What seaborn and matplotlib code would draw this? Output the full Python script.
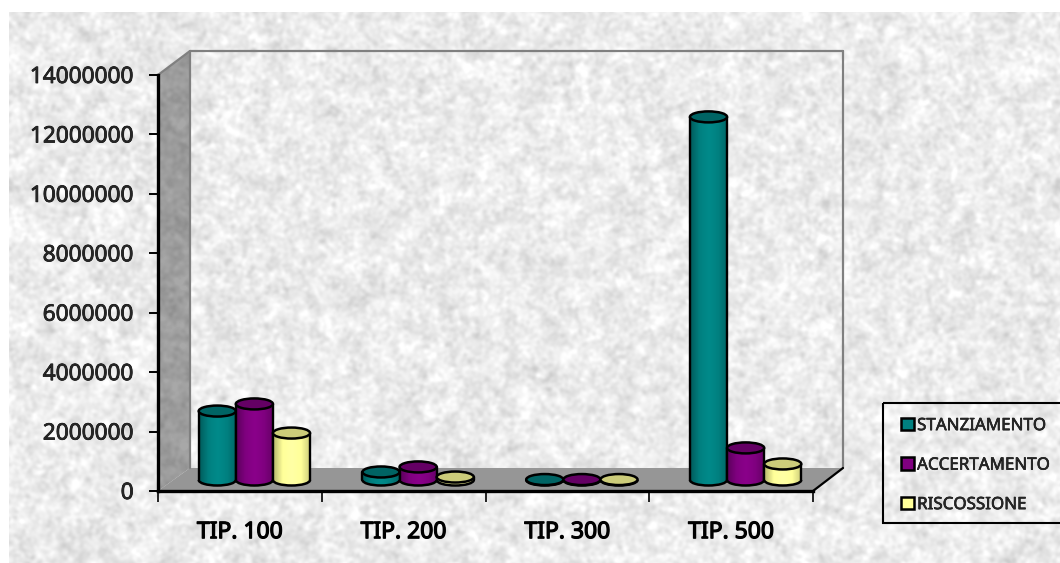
import numpy as np
import pandas as pd
import matplotlib
matplotlib.use("Agg")
import matplotlib.pyplot as plt
import matplotlib.patheffects as pe
from matplotlib.patches import Ellipse, Polygon, Arc, PathPatch, Rectangle
from matplotlib.path import Path
from matplotlib.lines import Line2D
from matplotlib.colors import LinearSegmentedColormap, to_rgb
import seaborn as sns

categories = ["TIP. 100", "TIP. 200", "TIP. 300", "TIP. 500"]
stanziamento = [2320000, 270000, 15000, 12220000]
accertamento = [2560000, 440000, 15000, 1080000]
riscossione = [1580000, 100000, 15000, 540000]
series_names = ["STANZIAMENTO", "ACCERTAMENTO", "RISCOSSIONE"]
colors = ["#008080", "#800080", "#FFFF99"]
top_colors = ["#006464", "#640064", "#CCCC7A"]
y_ticks = list(range(0, 14000001, 2000000))

W, H = 1060, 563
sns.set_theme(style="white")
plt.rcParams["font.family"] = ["Noto Sans", "DejaVu Sans"]

df = pd.DataFrame({
    "cat": categories * 3,
    "series": np.repeat(series_names, len(categories)),
    "value": stanziamento + accertamento + riscossione,
})

fig = plt.figure(figsize=(W / 100, H / 100), dpi=100, facecolor="white")


def frac(l, t, r, b):
    return [l / W, 1 - b / H, (r - l) / W, (b - t) / H]


# decorative paper texture behind the chart
rng = np.random.default_rng(7)
noise = rng.normal(size=(H, W))
fy = np.fft.fftfreq(H)[:, None]
fx = np.fft.fftfreq(W)[None, :]


def blur(sigma):
    out = np.fft.ifft2(np.fft.fft2(noise) * np.exp(-(fx**2 + fy**2) * 2 * (np.pi * sigma) ** 2)).real
    return out / out.std()


tex = np.clip(0.925 + 0.024 * blur(1.8) + 0.01 * blur(6.0), 0.78, 1.0)

bg = fig.add_axes([0, 0, 1, 1], zorder=0)
bg.set_xlim(0, W)
bg.set_ylim(H, 0)
bg.axis("off")
bg.imshow(tex, extent=(9, W, H, 12), cmap="gray", vmin=0, vmax=1, aspect="auto",
          interpolation="bilinear", zorder=0)
wall = tex[51:491, 158:190] * 0.66
bg.imshow(wall, extent=(158, 190, 491, 51), cmap="gray", vmin=0, vmax=1, aspect="auto",
          zorder=1, clip_path=Polygon([(158, 75), (190, 51), (190, 468), (158, 491)],
                                      transform=bg.transData))
bg.add_patch(Polygon([(158, 491), (190, 468), (843, 468), (813, 491)], closed=True,
                     facecolor="#969696", edgecolor="none", zorder=2))
for xs, ys in [((158, 190), (75, 51)), ((190, 843), (51, 51)), ((190, 190), (51, 468)),
               ((843, 843), (51, 468))]:
    bg.add_line(Line2D(xs, ys, color="#808080", lw=1.6, zorder=3))
bg.add_line(Line2D((843, 813), (468, 491), color="black", lw=1.6, zorder=3))
bg.add_patch(Rectangle((883, 403), 200, 120, facecolor="none", edgecolor="black", lw=1.5, zorder=3))
bg.set_xlim(0, W)
bg.set_ylim(H, 0)

# front frame: axes, ticks and labels
ax = fig.add_axes(frac(158, 75, 813, 491), zorder=1)
ax.patch.set_alpha(0)
ax.set_xlim(-0.5, len(categories) - 0.5)
ax.set_ylim(0, 14000000)
ax.set_yticks(y_ticks)
ax.set_yticklabels([str(v) for v in y_ticks])
ax.set_xticks(range(len(categories)))
ax.set_xticklabels(categories)
ax.set_xticks(np.arange(len(categories) + 1) - 0.5, minor=True)
ax.tick_params(axis="x", which="major", length=0, pad=21, labelsize=16.5, colors="black")
ax.tick_params(axis="x", which="minor", length=8, width=1.2, color="black", bottom=True)
ax.tick_params(axis="y", length=6.5, width=1.4, color="black", left=True, pad=11, labelsize=16.3)
for t in ax.get_xticklabels():
    t.set_path_effects([pe.withStroke(linewidth=0.9, foreground="black")])
for t in ax.get_yticklabels():
    t.set_path_effects([pe.withStroke(linewidth=0.5, foreground="black")])
sns.despine(ax=ax)
ax.spines["left"].set_linewidth(2.4)
ax.spines["bottom"].set_linewidth(2.4)
ax.spines["left"].set_color("black")
ax.spines["bottom"].set_color("black")

# bars sit on the floor, shifted into the 3D depth
bx = fig.add_axes(frac(172.5, 64, 827.5, 480), zorder=2)
sns.barplot(data=df, x="cat", y="value", hue="series", order=categories, hue_order=series_names,
            palette=colors, saturation=1, width=0.68, gap=0, ax=bx, legend=True)
bx.set_xlim(-0.5, len(categories) - 0.5)
bx.set_ylim(0, 14000000)
handles, labels = bx.get_legend_handles_labels()
bx.get_legend().remove()
bx.axis("off")

ell_h = 11 * 14000000 / 416
t_arc = np.linspace(np.pi, 2 * np.pi, 40)
for s, container in enumerate(bx.containers):
    base = np.array(to_rgb(colors[s]))
    cmap = LinearSegmentedColormap.from_list(
        "cyl", [base * 0.72, base, np.clip(base * 1.08, 0, 1), base, base * 0.8])
    z = 3 + s
    for bar in container:
        x0, w, h = bar.get_x(), bar.get_width(), bar.get_height()
        cx = x0 + w / 2
        bar.set_visible(False)
        arc_pts = np.column_stack([cx + w / 2 * np.cos(t_arc), ell_h / 2 * np.sin(t_arc)])
        outline = np.vstack([[[x0, h]], arc_pts, [[x0 + w, h]]])
        img = bx.imshow(np.linspace(0, 1, 40)[None, :], extent=(x0, x0 + w, -ell_h / 2, h),
                        cmap=cmap, aspect="auto", zorder=z)
        img.set_clip_path(PathPatch(Path(outline, closed=False), transform=bx.transData))
        img.set_clip_box(fig.bbox)
        bx.plot([x0, x0], [0, h], color="black", lw=1.7, zorder=z, clip_on=False)
        bx.plot([x0 + w, x0 + w], [0, h], color="black", lw=1.7, zorder=z, clip_on=False)
        bx.add_patch(Arc((cx, 0), w, ell_h, theta1=180, theta2=360, color="black", lw=1.8,
                         clip_on=False, zorder=z))
        bx.add_patch(Ellipse((cx, h), w, ell_h, facecolor=top_colors[s], edgecolor="black", lw=1.8,
                             clip_on=False, zorder=z))
bx.set_xlim(-0.5, len(categories) - 0.5)
bx.set_ylim(0, 14000000)

for hd in handles:
    hd.set_edgecolor("black")
    hd.set_linewidth(1.8)
    hd.set_visible(True)
leg = bx.legend(handles, labels, loc="upper left", bbox_to_anchor=(901 / W, 1 - 418 / H),
                bbox_transform=fig.transFigure, borderaxespad=0, fontsize=12.2, frameon=False,
                handlelength=0.75, handleheight=0.75,
                handletextpad=0.2, labelspacing=1.38, borderpad=0)
leg.set_zorder(20)
for t in leg.get_texts():
    t.set_path_effects([pe.withStroke(linewidth=0.4, foreground="black")])

fig.savefig("out.png", dpi=100, facecolor="white")
